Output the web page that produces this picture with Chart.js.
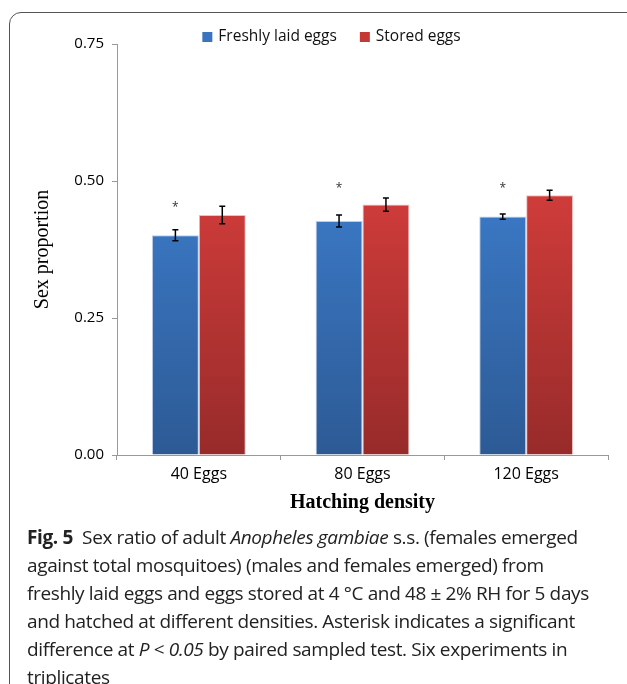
<!DOCTYPE html>
<html>
<head>
<meta charset="utf-8">
<script src="https://cdn.jsdelivr.net/npm/chart.js@4"></script>
<style>
  html, body { margin: 0; padding: 0; background: #fff; }
  body { width: 627px; height: 684px; position: relative; overflow: hidden; }
  #frame {
    position: absolute; left: 9px; top: 12px; width: 700px; height: 720px;
    border: 1px solid #555; border-radius: 12px; box-sizing: border-box;
  }
  #wrap { position: absolute; left: 0; top: 0; width: 627px; height: 530px; }
  #caption {
    position: absolute; left: 27px; top: 523px;
    font-family: "Open Sans", sans-serif; font-size: 19px; line-height: 28px;
    color: #222; white-space: nowrap; letter-spacing: -0.37px;
  }
  #caption b { font-weight: 700; }
</style>
</head>
<body>
<div id="frame"></div>
<div id="wrap"><canvas id="sexChart" width="627" height="530"></canvas></div>
<div id="caption">
  <b>Fig. 5</b>&nbsp; Sex ratio of adult <i>Anopheles gambiae</i> s.s. (females emerged<br>
  against total mosquitoes) (males and females emerged) from<br>
  freshly laid eggs and eggs stored at 4 °C and 48 ± 2% RH for 5 days<br>
  and hatched at different densities. Asterisk indicates a significant<br>
  difference at <i>P</i> &lt; <i>0.05</i> by paired sampled test. Six experiments in<br>
  triplicates
</div>
<script>
const categories = ['40 Eggs', '80 Eggs', '120 Eggs'];
const freshValues = [0.401, 0.427, 0.435];
const freshErrors = [0.010, 0.011, 0.005];
const storedValues = [0.438, 0.457, 0.474];
const storedErrors = [0.016, 0.012, 0.009];
const asteriskHeights = [0.455, 0.490, 0.490];
const yTicks = [0, 0.25, 0.5, 0.75];

function gradient(ctx, top, bottom) {
    const area = ctx.chart.chartArea;
    if (!area) return top;
    const g = ctx.chart.ctx.createLinearGradient(0, area.top + 150, 0, area.bottom);
    g.addColorStop(0, top);
    g.addColorStop(1, bottom);
    return g;
}

// error bars + significance stars
const extras = {
    id: 'extras',
    afterDatasetsDraw(chart) {
        const c = chart.ctx;
        const y = chart.scales.y;
        const errs = [freshErrors, storedErrors];
        const vals = [freshValues, storedValues];
        c.save();
        c.strokeStyle = '#000';
        c.lineWidth = 1.5;
        errs.forEach((err, d) => {
            chart.getDatasetMeta(d).data.forEach((bar, i) => {
                const hi = y.getPixelForValue(vals[d][i] + err[i]);
                const lo = y.getPixelForValue(vals[d][i] - err[i]);
                c.beginPath();
                c.moveTo(bar.x, hi); c.lineTo(bar.x, lo);
                c.moveTo(bar.x - 3, hi); c.lineTo(bar.x + 3, hi);
                c.moveTo(bar.x - 3, lo); c.lineTo(bar.x + 3, lo);
                c.stroke();
            });
        });
        c.fillStyle = '#333';
        c.font = '12px "Open Sans", sans-serif';
        c.textAlign = 'center';
        c.textBaseline = 'middle';
        chart.getDatasetMeta(0).data.forEach((bar, i) => {
            c.fillText('*', bar.x, y.getPixelForValue(asteriskHeights[i]) + 2);
        });
        c.restore();
    },
    afterDraw(chart) {
        // legend drawn over the top of the plot, as in the figure
        const c = chart.ctx;
        const items = chart.data.datasets.map(ds => ({ text: ds.label, color: ds.legendColor }));
        c.save();
        c.font = '15.5px "Open Sans", sans-serif';
        c.textBaseline = 'middle';
        const box = 10, gap = 6, spacing = 23;
        let total = 0;
        items.forEach((it, k) => { total += box + gap + c.measureText(it.text).width + (k ? spacing : 0); });
        let x = (chart.chartArea.left + chart.chartArea.right) / 2 - total / 2 - 31;
        const yy = chart.chartArea.top - 7;
        items.forEach(it => {
            c.fillStyle = it.color;
            c.fillRect(x, yy - box / 2, box, box);
            x += box + gap;
            c.fillStyle = '#111';
            c.fillText(it.text, x, yy);
            x += c.measureText(it.text).width + spacing;
        });
        c.restore();
    }
};

const ctx = document.getElementById('sexChart').getContext('2d');
const sexChart = new Chart(ctx, {
    type: 'bar',
    data: {
        labels: categories,
        datasets: [{
            label: 'Freshly laid eggs',
            data: freshValues,
            legendColor: '#3a74bf',
            backgroundColor: c => gradient(c, '#3b79c6', '#2d5a95'),
            borderColor: 'rgba(140,170,220,0.6)',
            borderWidth: 1
        }, {
            label: 'Stored eggs',
            data: storedValues,
            legendColor: '#c63836',
            backgroundColor: c => gradient(c, '#cf3c3a', '#972b2a'),
            borderColor: 'rgba(225,150,150,0.6)',
            borderWidth: 1
        }]
    },
    options: {
        responsive: false,
        animation: false,
        layout: { padding: { left: 27, right: 19, top: 44, bottom: 15 } },
        plugins: {
            legend: { display: false },
            tooltip: { enabled: false }
        },
        datasets: {
            bar: { categoryPercentage: 0.573, barPercentage: 1 }
        },
        scales: {
            x: {
                grid: { drawOnChartArea: false, tickLength: 5, color: '#999' },
                border: { color: '#999' },
                ticks: { color: '#000', padding: 5, font: { family: 'Open Sans', size: 16 } },
                title: {
                    display: true, text: 'Hatching density', color: '#000',
                    font: { family: 'Liberation Serif', size: 20, weight: 'bold' },
                    padding: { top: 9, bottom: 0 }
                },
                afterFit(scale) { scale.height = 60; }
            },
            y: {
                min: 0, max: 0.75,
                afterBuildTicks(scale) { scale.ticks = yTicks.map(v => ({ value: v })); },
                grid: { drawOnChartArea: false, tickLength: 5, color: '#999' },
                border: { color: '#999' },
                ticks: {
                    color: '#000', padding: 8,
                    font: { family: 'Open Sans', size: 15 },
                    callback: v => v.toFixed(2)
                },
                title: {
                    display: true, text: 'Sex proportion', color: '#000',
                    font: { family: 'Liberation Serif', size: 20 },
                    padding: { top: 4, bottom: 4 }
                },
                afterFit(scale) { scale.width = 90; }
            }
        }
    },
    plugins: [extras]
});
</script>
</body>
</html>
